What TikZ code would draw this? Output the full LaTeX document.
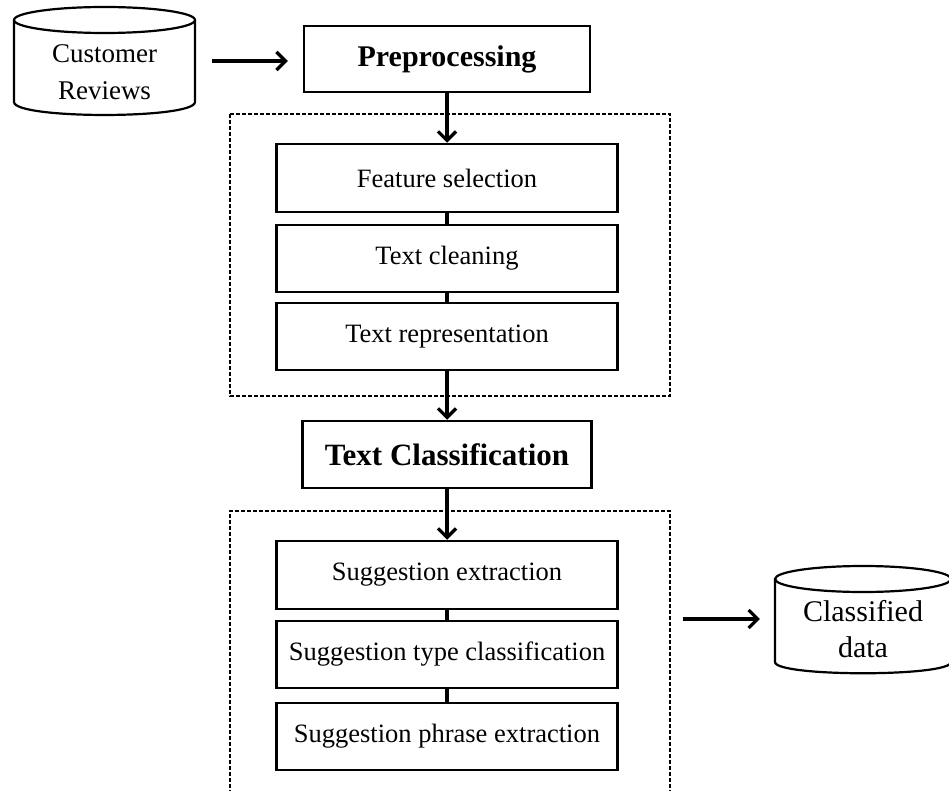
\documentclass[tikz,border=0pt]{standalone}
\usepackage{fontspec}
\setmainfont{Liberation Serif}
\usetikzlibrary{arrows.meta}
\newcommand\fsz[2]{\fontsize{#1}{#2}\selectfont}
\begin{document}
\begin{tikzpicture}[x=1pt,y=-1pt,
  stepbox/.style={draw, line width=2.5pt, minimum width=341pt, minimum height=67pt, inner sep=0pt, font=\fsz{26.5}{32}},
  mainbox/.style={draw, line width=2.5pt, inner sep=0pt, font=\bfseries\fsz{30}{36}},
  arr/.style={line width=3.4pt, -{Straight Barb[length=9pt,width=18pt,line width=3.2pt]}},
  link/.style={line width=3.6pt},
  dbox/.style={dashed, line width=1.3pt, dash pattern=on 4pt off 2pt},
  cyl/.style={line width=2.2pt},
  cyltext/.style={inner sep=0pt, align=center}
]
\useasboundingbox (0,0) rectangle (949,791);

% Customer Reviews cylinder
\node[minimum width=181pt, minimum height=108pt, inner sep=0pt] (cr) at (104.5,61) {};
\draw[cyl] (14,20) -- (14,102) .. controls (14,119.3) and (195,119.3) .. (195,102) -- (195,20);
\draw[cyl] (104.5,20) ellipse [x radius=90.5pt, y radius=13pt];
\node[cyltext, font=\fsz{27}{37}] (crt) at (104.5,72.5) {Customer\\Reviews};

% Preprocessing
\node[mainbox, minimum width=286pt, minimum height=66pt] (pre) at (447,59) {Preprocessing};

% upper dashed frame
\draw[dbox] (230,114) rectangle (670,396);

\node[stepbox, minimum height=68pt] (fs) at (447,178) {Feature selection};
\node[stepbox] (tc) at (447,258.5) {Text cleaning};
\node[stepbox] (tr) at (447,336.5) {Text representation};

% Text Classification
\node[mainbox, minimum width=289pt, minimum height=67pt, font=\bfseries\fsz{31}{36}] (tcl) at (447,454.5) {Text Classification};

% lower dashed frame (runs past the bottom edge)
\draw[dbox] (230,800) |- (670,511) -- (670,800);

\node[stepbox, minimum height=68pt] (se) at (447,575) {Suggestion extraction};
\node[stepbox] (st) at (447,654.5) {Suggestion type classification};
\node[stepbox] (sp) at (447,736.5) {Suggestion phrase extraction};

% Classified data cylinder
\node[minimum width=176pt, minimum height=107pt, inner sep=0pt] (cd) at (863,620) {};
\draw[cyl] (775,579) -- (775,662) .. controls (775,677) and (951,677) .. (951,662) -- (951,579);
\draw[cyl] (863,579) ellipse [x radius=88pt, y radius=13pt];
\node[cyltext, font=\fsz{30}{36}] (cdt) at (863,629.5) {Classified\\data};

\coordinate (outstart) at (683,619);

% connectors
\draw[arr, shorten <=17pt, shorten >=15pt] (cr.east) -- (cr.east -| pre.west);
\draw[arr] (pre.south) -- (fs.north);
\draw[link] (fs.south) -- (tc.north);
\draw[link] (tc.south) -- (tr.north);
\draw[arr] (tr.south) -- (tcl.north);
\draw[arr] (tcl.south) -- (se.north);
\draw[link] (se.south) -- (st.north);
\draw[link] (st.south) -- (sp.north);
\draw[arr, shorten >=15pt] (outstart) -- (outstart -| cd.west);
\end{tikzpicture}
\end{document}
